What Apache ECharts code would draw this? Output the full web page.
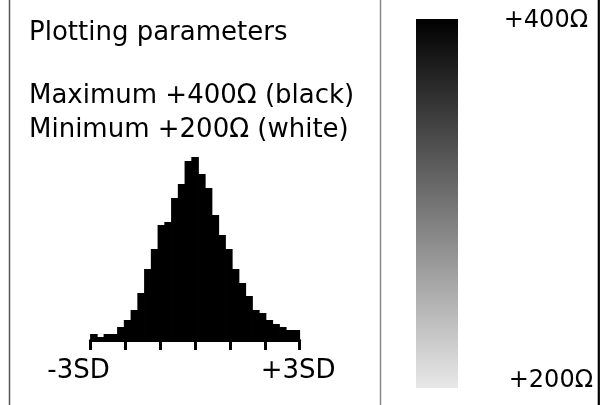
<!DOCTYPE html>
<html>
<head>
<meta charset="utf-8">
<script src="https://cdn.jsdelivr.net/npm/echarts@6/dist/echarts.min.js"></script>
<style>
html,body{margin:0;padding:0;background:#fff;}
#chart{width:604px;height:405px;}
</style>
</head>
<body>
<div id="chart"></div>
<script>
// Histogram bins (bin centres in SD) and bar heights (arbitrary counts)
const binCenters = ['-2.90','-2.71','-2.52','-2.32','-2.13','-1.94','-1.74','-1.55','-1.35','-1.16','-0.97','-0.77','-0.58','-0.39','-0.19','0.00','0.19','0.39','0.58','0.77','0.97','1.16','1.35','1.55','1.74','1.94','2.13','2.32','2.52','2.71','2.90'];
const counts = [6,3,6,6,13,20,30,47,71,91,115,118,142,156,179,183,166,152,125,105,91,71,57,44,30,27,20,16,13,10,10];
// x-axis end labels
const sdLabels = { '-3': '-3SD', '3': '+3SD' };
// Colour scale
const scaleMin = 200;
const scaleMax = 400;
const scaleColors = ['#e8e8e8', '#000000'];   // min colour, max colour
const scaleLabels = ['+400Ω', '+200Ω'];
const infoLines = ['Plotting parameters', 'Maximum +400Ω (black)', 'Minimum +200Ω (white)'];

const FONT = '"DejaVu Sans", Verdana, sans-serif';
const chart = echarts.init(document.getElementById('chart'), null, {renderer: 'canvas'});

function txt(text, x, y, size, align) {
  return {
    type: 'text',
    silent: true,
    style: {
      text: text, x: x, y: y,
      font: size + 'px ' + FONT,
      fill: '#000',
      align: align || 'left',
      verticalAlign: 'middle'
    }
  };
}
function vline(x, color, w) {
  return {
    type: 'line', silent: true,
    shape: {x1: x, y1: 0, x2: x, y2: 405},
    style: {stroke: color, lineWidth: w}
  };
}

// colour bar geometry
const bar = {x: 416, y: 19, w: 42, h: 369};

const option = {
  backgroundColor: '#fff',
  animation: false,
  grid: {left: 90.5, right: 304.3, top: 140, bottom: 65},
  xAxis: [
    {
      type: 'value', min: -3, max: 3, interval: 1, position: 'bottom',
      axisLine: {show: true, lineStyle: {color: '#000', width: 3}},
      axisTick: {show: true, length: 10, lineStyle: {color: '#000', width: 3}},
      splitLine: {show: false},
      axisLabel: {
        margin: 18,
        formatter: function (v) {
          if (v === -3) return '{l|' + sdLabels['-3'] + '}';
          if (v === 3) return '{r|' + sdLabels['3'] + '}';
          return '';
        },
        rich: {
          l: {fontFamily: FONT, fontSize: 26, color: '#000', padding: [0, 24, 0, 0]},
          r: {fontFamily: FONT, fontSize: 26, color: '#000', padding: [0, 3, 0, 0]}
        }
      }
    },
    {
      type: 'category', data: binCenters, show: false, boundaryGap: true, position: 'top'
    }
  ],
  yAxis: {type: 'value', min: 0, max: 200, show: false},
  series: [
    {
      type: 'custom',
      xAxisIndex: 1,
      silent: true,
      data: counts.map(function (c, i) { return [i, c]; }),
      encode: {x: 0, y: 1},
      renderItem: function (params, api) {
        const top = api.coord([api.value(0), api.value(1)]);
        const base = api.coord([api.value(0), 0]);
        const w = api.size([1, 0])[0];
        return {
          type: 'rect',
          shape: {x: top[0] - w / 2 - 0.4, y: top[1], width: w + 0.8, height: base[1] - top[1]},
          style: {fill: '#000'}
        };
      }
    }
  ],
  graphic: [
    vline(9.5, '#555', 1.5),
    vline(380.5, '#888', 1.5),
    vline(598.8, '#000', 2.2),
    {
      type: 'rect', silent: true,
      shape: {x: bar.x, y: bar.y, width: bar.w, height: bar.h},
      style: {
        fill: new echarts.graphic.LinearGradient(0, 0, 0, 1, [
          {offset: 0, color: scaleColors[1]},
          {offset: 1, color: scaleColors[0]}
        ])
      }
    },
    txt(infoLines[0], 29, 42 - 0.346 * 26, 26),
    txt(infoLines[1], 29, 105 - 0.346 * 26, 26),
    txt(infoLines[2], 29, 139 - 0.346 * 26, 26),
    txt(scaleLabels[0], 588, 29 - 0.346 * 24, 24, 'right'),
    txt(scaleLabels[1], 593, 389 - 0.346 * 24, 24, 'right')
  ]
};
chart.setOption(option);
</script>
</body>
</html>
